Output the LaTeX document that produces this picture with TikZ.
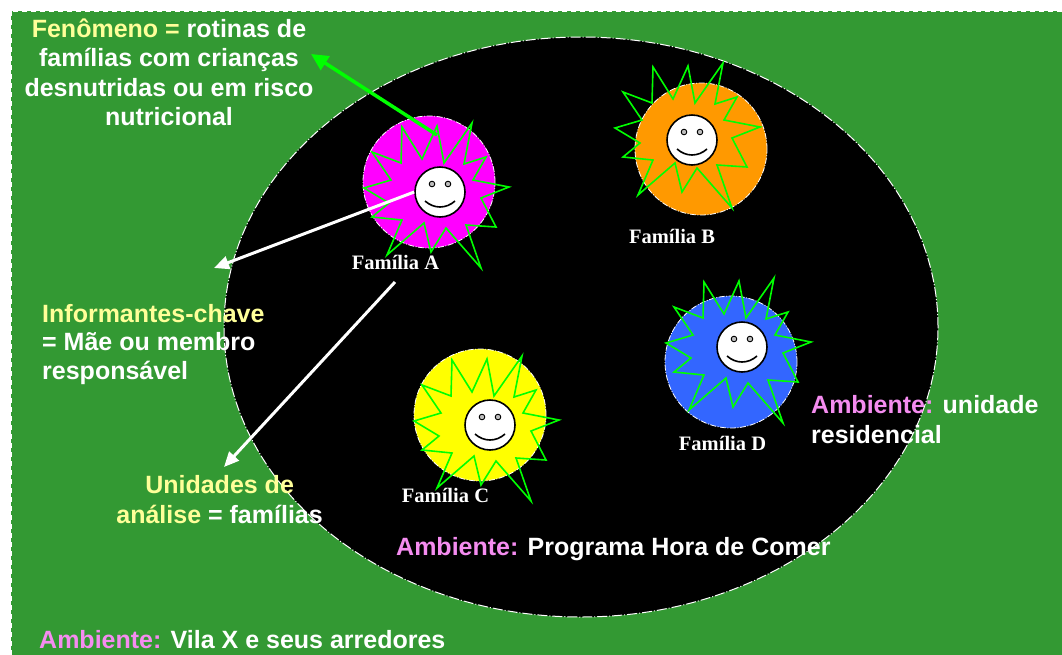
\documentclass[tikz,border=0pt]{standalone}
\usepackage{fontspec}
\setmainfont{Liberation Sans}
\newfontfamily\famfont{Liberation Serif}
\usetikzlibrary{shapes.geometric,arrows.meta}
\definecolor{bggreen}{RGB}{51,153,51}
\definecolor{ylw}{RGB}{255,255,153}
\definecolor{pnk}{RGB}{245,140,240}
\definecolor{starg}{RGB}{0,255,0}
\definecolor{dmag}{RGB}{255,0,255}
\definecolor{dorg}{RGB}{255,153,0}
\definecolor{dyel}{RGB}{255,255,0}
\definecolor{dblu}{RGB}{51,102,255}
\definecolor{eyeg}{RGB}{190,190,190}
\begin{document}
\begin{tikzpicture}[x=1pt,y=-1pt,
  lbl/.style={text=white,font=\fontsize{25}{29}\selectfont\bfseries,inner sep=0pt},
  fam/.style={text=white,font=\famfont\fontsize{20.5}{24}\selectfont\bfseries,inner sep=0pt,anchor=base},
  disc/.style={circle,minimum size=132pt,inner sep=0pt,draw=white,line width=0.8pt,dash pattern=on 6pt off 1.5pt on 1pt off 1.5pt},
  starline/.style={draw=starg,line width=1.6pt,line join=miter},
  warrow/.style={draw=white,line width=3pt,-{Triangle[length=15pt,width=13pt]}},
  garrow/.style={draw=starg,line width=3.5pt,-{Triangle[length=17pt,width=16pt]}},
  smiley/.pic={
    \node[circle,draw=black,line width=1.6pt,fill=white,minimum size=50pt,inner sep=0pt] (-c) at (0,0) {};
    \draw[black,line width=0.9pt,fill=eyeg] (-8,-8) circle[radius=2.8];
    \draw[black,line width=0.9pt,fill=eyeg] (8,-8) circle[radius=2.8];
    \draw[black,line width=1.6pt] (-15,9) .. controls (-6,17) and (6,17) .. (15,9);
  },
  starshape/.pic={
    \draw[starline] (-39,-73) -- (-19,-41) -- (-4,-74) -- (3,-37) -- (31,-77) -- (23,-36)
      -- (45,-43) -- (32,-20) -- (68,-13) -- (40,-2) -- (55,27) -- (25,25) -- (40,68)
      -- (5,28) -- (-10,52) -- (-17,23) -- (-54,55) -- (-39,20) -- (-69,17) -- (-52,3)
      -- (-77,-12) -- (-50,-20) -- (-69,-48) -- (-40,-37) -- cycle;
  }
]
\useasboundingbox (0,0) rectangle (1062,654);
\fill[white] (0,0) rectangle (1062,654);
% village background
\path[fill=bggreen,draw=white,line width=0.6pt,dash pattern=on 5pt off 4pt] (11,11) rectangle (1062,660);
% program ellipse
\node[ellipse,fill=black,draw=white,line width=1pt,dash pattern=on 10pt off 2pt on 1pt off 2pt,
      minimum width=714pt,minimum height=580pt,inner sep=0pt] (env) at (581,327) {};
% family discs
\node[disc,fill=dmag] (dA) at (429,182) {};
\node[disc,fill=dorg] (dB) at (701,149) {};
\node[disc,fill=dyel] (dC) at (480,415) {};
\node[disc,fill=dblu] (dD) at (731,362) {};
% stars
\pic at (441,200) {starshape};
\pic at (692,140) {starshape};
\pic at (491,433) {starshape};
\pic at (743,355) {starshape};
% faces
\pic (fA) at (440,192) {smiley};
\pic (fB) at (692,140) {smiley};
\pic (fC) at (490,425) {smiley};
\pic (fD) at (742,347) {smiley};
% family labels
\node[fam] (lA) at (395.5,269) {Família A};
\node[fam] (lB) at (672,243) {Família B};
\node[fam] (lC) at (445.5,502) {Família C};
\node[fam] (lD) at (722.5,450) {Família D};
% texts
\node[lbl,anchor=base] (fen1) at (169,37) {\textcolor{ylw}{Fenômeno =} rotinas de};
\node[lbl,anchor=base] (fen2) at (169,66) {famílias com crianças};
\node[lbl,anchor=base] (fen3) at (169,96) {desnutridas ou em risco};
\node[lbl,anchor=base] (fen4) at (169,125) {nutricional};
\node[lbl,anchor=base west] (inf1) at (42,322) {\textcolor{ylw}{Informantes-chave}};
\node[lbl,anchor=base west] (inf2) at (42,350) {= Mãe ou membro};
\node[lbl,anchor=base west] (inf3) at (42,379) {responsável};
\node[lbl,anchor=base] (uni1) at (219.6,493) {\textcolor{ylw}{Unidades de}};
\node[lbl,anchor=base] (uni2) at (219.6,523) {\textcolor{ylw}{análise} = famílias};
\node[lbl,anchor=base west] (amb1) at (39,648) {\textcolor{pnk}{Ambiente:} Vila X e seus arredores};
\node[lbl,anchor=base west] (amb2) at (396,555) {\textcolor{pnk}{Ambiente:} Programa Hora de Comer};
\node[lbl,anchor=base west] (amb3) at (811,413) {\textcolor{pnk}{Ambiente:} unidade};
\node[lbl,anchor=base west] (amb4) at (811,443) {residencial};
% arrows
\coordinate (gtail) at (437,135);
\coordinate (ghead) at (311,54);
\coordinate (w1head) at (214,268);
\coordinate (w2tail) at (395,282);
\coordinate (w2head) at (224,467);
\draw[garrow] (gtail) -- (ghead);
\draw[warrow] (fA-c.west) -- (w1head);
\draw[warrow] (w2tail) -- (w2head);
\end{tikzpicture}
\end{document}
